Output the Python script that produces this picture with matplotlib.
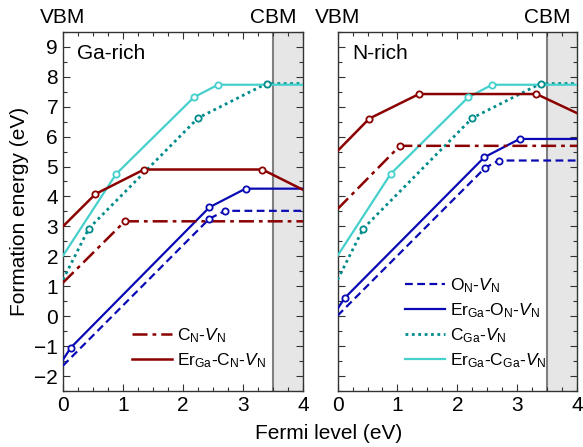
import numpy as np
import matplotlib
matplotlib.use("Agg")
import matplotlib.pyplot as plt
from matplotlib.ticker import MultipleLocator

plt.rcParams['font.family'] = ['Liberation Sans', 'DejaVu Sans']
plt.rcParams['mathtext.fontset'] = 'custom'
plt.rcParams['mathtext.rm'] = 'Liberation Sans'
plt.rcParams['mathtext.it'] = 'Liberation Sans:italic'
plt.rcParams['font.size'] = 13

# breakpoints of the formation energy curves (Fermi level, energy)
# Ga-rich
ga_cn_x = [0, 1.03, 4]
ga_cn_y = [1.12, 3.17, 3.17]
ga_ercn_x = [0, 0.54, 1.35, 3.32, 4]
ga_ercn_y = [3.0, 4.08, 4.9, 4.9, 4.22]
ga_on_x = [0, 2.44, 2.70, 4]
ga_on_y = [-1.65, 3.26, 3.52, 3.52]
ga_eron_x = [0, 0.13, 2.44, 3.04, 4]
ga_eron_y = [-1.45, -1.05, 3.64, 4.26, 4.26]
ga_cga_x = [0, 0.43, 2.25, 3.39, 4]
ga_cga_y = [1.22, 2.93, 6.62, 7.77, 7.77]
ga_ercga_x = [0, 0.885, 2.18, 2.58, 4]
ga_ercga_y = [2.02, 4.75, 7.31, 7.73, 7.73]

# N-rich
n_cn_x = [0, 1.04, 4]
n_cn_y = [3.58, 5.69, 5.69]
n_ercn_x = [0, 0.53, 1.36, 3.32, 4]
n_ercn_y = [5.52, 6.6, 7.42, 7.42, 6.78]
n_on_x = [0, 2.46, 2.69, 4]
n_on_y = [0.02, 4.95, 5.2, 5.2]
n_eron_x = [0, 0.12, 2.45, 3.04, 4]
n_eron_y = [0.25, 0.61, 5.31, 5.92, 5.92]
n_cga_x = [0, 0.43, 2.25, 3.39, 4]
n_cga_y = [1.22, 2.93, 6.62, 7.77, 7.77]
n_ercga_x = [0, 0.885, 2.18, 2.58, 4]
n_ercga_y = [2.02, 4.75, 7.31, 7.73, 7.73]

cbm = 3.5

red = '#8b0000'
blue = '#0a0ab4'
teal = '#008b8b'
cyan = '#45d0cc'

lab_cn = r'C$_\mathrm{N}$-$V_\mathrm{N}$'
lab_ercn = r'Er$_\mathrm{Ga}$-C$_\mathrm{N}$-$V_\mathrm{N}$'
lab_on = r'O$_\mathrm{N}$-$V_\mathrm{N}$'
lab_eron = r'Er$_\mathrm{Ga}$-O$_\mathrm{N}$-$V_\mathrm{N}$'
lab_cga = r'C$_\mathrm{Ga}$-$V_\mathrm{N}$'
lab_ercga = r'Er$_\mathrm{Ga}$-C$_\mathrm{Ga}$-$V_\mathrm{N}$'

dashdot = (0, (6, 2, 1.5, 2))
dashed = (0, (3.5, 2))
dotted = (0, (1, 1.3))


def draw(ax, x, y, color, ls, label, lw=1.6):
    ax.plot(x, y, color=color, ls=ls, lw=lw, label=label, zorder=3)
    # open circles at the transition levels only
    ax.plot(x[1:-1], y[1:-1], ls='none', marker='o', ms=4.5, mfc='white',
            mec=color, mew=1.3, zorder=4)


def style(ax):
    ax.set_xlim(0, 4)
    ax.set_ylim(-2.5, 9.5)
    ax.axvspan(cbm, 4, color='#e6e6e6', zorder=0, lw=0)
    ax.axvline(cbm, color='#808080', lw=1.5, zorder=1)
    ax.xaxis.set_major_locator(MultipleLocator(1))
    ax.xaxis.set_minor_locator(MultipleLocator(0.25))
    ax.yaxis.set_major_locator(MultipleLocator(1))
    ax.yaxis.set_minor_locator(MultipleLocator(0.5))
    ax.tick_params(which='both', direction='in', top=True, right=True,
                   color='#333333', width=0.8)
    ax.tick_params(which='major', length=5, labelsize=15)
    ax.tick_params(which='minor', length=3)
    for s in ax.spines.values():
        s.set_linewidth(1.0)
        s.set_color('#333333')
    ax.text(0, 1.014, 'VBM', transform=ax.get_xaxis_transform(),
            ha='center', va='bottom', fontsize=15)
    ax.text(cbm, 1.014, 'CBM', transform=ax.get_xaxis_transform(),
            ha='center', va='bottom', fontsize=15)


fig = plt.figure(figsize=(5.83, 4.47), dpi=100)
ax1 = fig.add_axes([0.108, 0.125, 0.412, 0.804])
ax2 = fig.add_axes([0.579, 0.125, 0.411, 0.804])

style(ax1)
style(ax2)

draw(ax1, ga_cga_x, ga_cga_y, teal, dotted, lab_cga, lw=2)
draw(ax1, ga_ercga_x, ga_ercga_y, cyan, '-', lab_ercga)
draw(ax1, ga_on_x, ga_on_y, blue, dashed, lab_on)
draw(ax1, ga_eron_x, ga_eron_y, blue, '-', lab_eron)
draw(ax1, ga_cn_x, ga_cn_y, red, dashdot, lab_cn, lw=1.8)
draw(ax1, ga_ercn_x, ga_ercn_y, red, '-', lab_ercn, lw=1.8)

draw(ax2, n_cga_x, n_cga_y, teal, dotted, lab_cga, lw=2)
draw(ax2, n_ercga_x, n_ercga_y, cyan, '-', lab_ercga)
draw(ax2, n_on_x, n_on_y, blue, dashed, lab_on)
draw(ax2, n_eron_x, n_eron_y, blue, '-', lab_eron)
draw(ax2, n_cn_x, n_cn_y, red, dashdot, lab_cn, lw=1.8)
draw(ax2, n_ercn_x, n_ercn_y, red, '-', lab_ercn, lw=1.8)

ax2.set_yticklabels([])

ax1.text(0.06, 0.965, 'Ga-rich', transform=ax1.transAxes, ha='left', va='top', fontsize=15)
ax2.text(0.06, 0.965, 'N-rich', transform=ax2.transAxes, ha='left', va='top', fontsize=15)

h1, l1 = ax1.get_legend_handles_labels()
leg1 = ax1.legend(h1[4:6], l1[4:6], loc='lower left', bbox_to_anchor=(0.286, 0.06),
                  frameon=False, fontsize=12.5, handlelength=2.3, handletextpad=0.3,
                  labelspacing=0.35, borderpad=0, borderaxespad=0)
h2, l2 = ax2.get_legend_handles_labels()
order = [2, 3, 0, 1]
leg2 = ax2.legend([h2[i] for i in order], [l2[i] for i in order], loc='lower left',
                  bbox_to_anchor=(0.282, 0.06), frameon=False, fontsize=12.5,
                  handlelength=2.3, handletextpad=0.3, labelspacing=0.35,
                  borderpad=0, borderaxespad=0)

ax1.set_ylabel('Formation energy (eV)', fontsize=15, labelpad=4)
fig.text(0.563, 0.008, 'Fermi level (eV)', ha='center', va='bottom', fontsize=15)

fig.savefig('out.png', dpi=100)
